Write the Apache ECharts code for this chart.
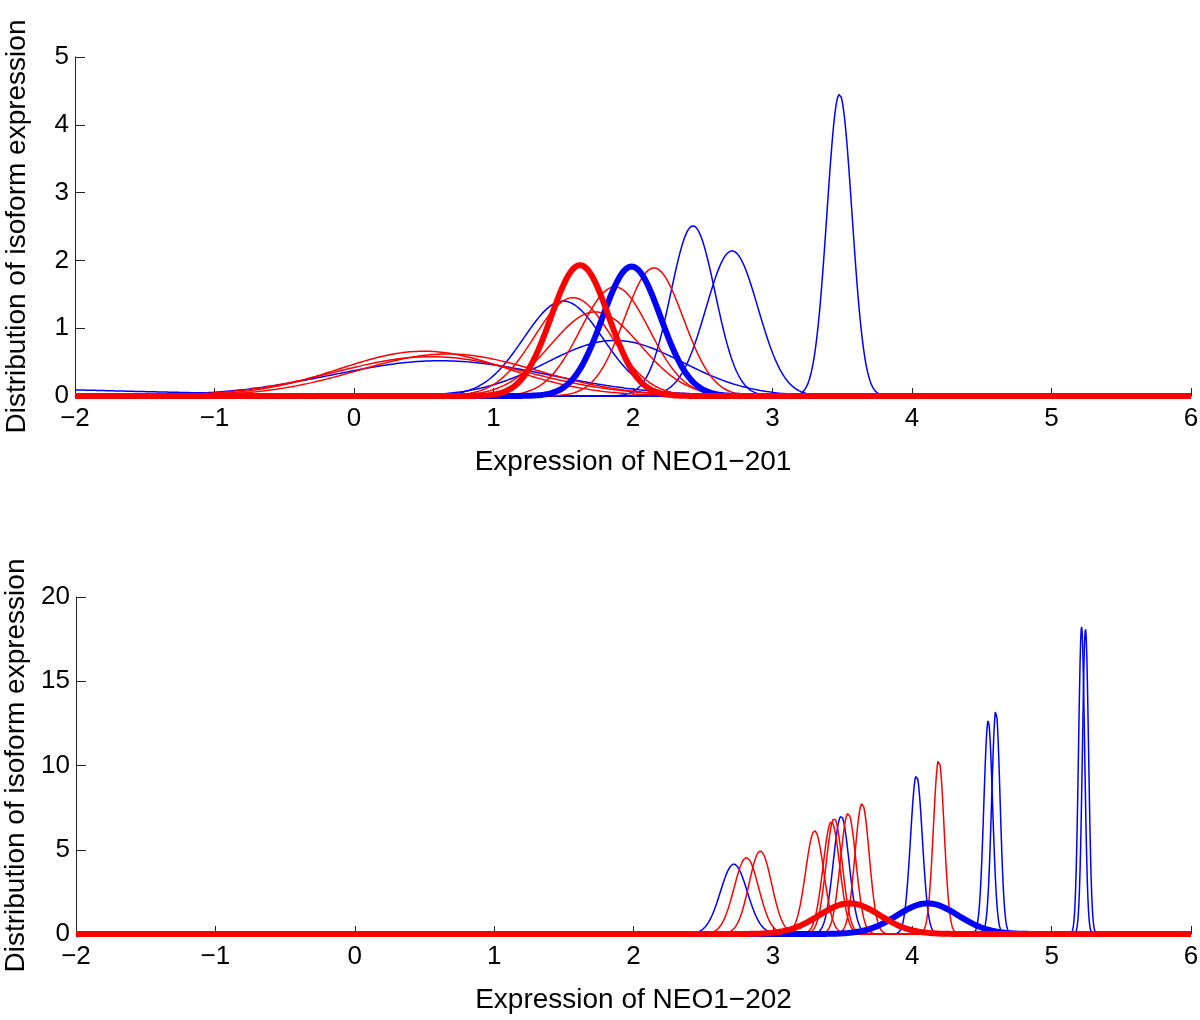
<!DOCTYPE html>
<html>
<head>
<meta charset="utf-8">
<script src="https://cdn.jsdelivr.net/npm/echarts@6/dist/echarts.min.js"></script>
<style>
html,body{margin:0;padding:0;background:#fff;}
#chart{width:1200px;height:1020px;}
</style>
</head>
<body>
<div id="chart"></div>
<script>
// ---- Data: each curve is a density given by its mode (mean) and peak height ----
const xTicks = [-2, -1, 0, 1, 2, 3, 4, 5, 6];
const yTicksTop = [0, 1, 2, 3, 4, 5];
const yTicksBottom = [0, 5, 10, 15, 20];

// Panel 1: NEO1-201
const top201BlueMeans = [-4.5, 0.62, 1.50, 1.87, 2.43, 2.71, 3.48];
const top201BluePeaks = [0.20, 0.52, 1.40, 0.82, 2.51, 2.14, 4.45];
const top201RedMeans  = [0.50, 0.55, 0.67, 1.57, 1.73, 1.87, 2.15];
const top201RedPeaks  = [0.66, 0.58, 0.62, 1.45, 1.24, 1.61, 1.89];
const top201BlueGroupMean = 1.99, top201BlueGroupPeak = 1.91;
const top201RedGroupMean  = 1.62, top201RedGroupPeak  = 1.93;

// Panel 2: NEO1-202
const bot202BlueMeans = [2.72, 3.49, 4.03, 4.545, 4.60, 5.215, 5.243];
const bot202BluePeaks = [4.15, 7.00, 9.44, 12.66, 13.29, 18.24, 18.10];
const bot202RedMeans  = [2.81, 2.91, 3.30, 3.42, 3.44, 3.54, 3.64, 4.19];
const bot202RedPeaks  = [4.53, 4.93, 6.13, 6.67, 6.86, 7.16, 7.75, 10.37];
const bot202BlueGroupMean = 4.11, bot202BlueGroupPeak = 1.82;
const bot202RedGroupMean  = 3.55, bot202RedGroupPeak  = 1.82;

// ---- Build curves ----
const XMIN = -2, XMAX = 6, STEP = 0.004;
const xs = [];
for (let i = 0; i <= Math.round((XMAX - XMIN) / STEP); i++) xs.push(+(XMIN + i * STEP).toFixed(4));

function density(mean, peak) {
  const sd = 1 / (peak * Math.sqrt(2 * Math.PI));
  return xs.map(x => [x, peak * Math.exp(-0.5 * ((x - mean) / sd) ** 2)]);
}

const BLUE = '#0000ff', RED = '#ff0000';
const series = [];
function add(gi, mean, peak, color, width) {
  series.push({
    type: 'line', xAxisIndex: gi, yAxisIndex: gi,
    data: density(mean, peak), showSymbol: false, symbol: 'none',
    smooth: false, clip: false, silent: true,
    lineStyle: { color: color, width: width }
  });
}
top201BlueMeans.forEach((m, i) => add(0, m, top201BluePeaks[i], BLUE, 1.5));
top201RedMeans.forEach((m, i) => add(0, m, top201RedPeaks[i], RED, 1.5));
add(0, top201BlueGroupMean, top201BlueGroupPeak, BLUE, 6);
add(0, top201RedGroupMean, top201RedGroupPeak, RED, 6);

bot202BlueMeans.forEach((m, i) => add(1, m, bot202BluePeaks[i], BLUE, 1.5));
bot202RedMeans.forEach((m, i) => add(1, m, bot202RedPeaks[i], RED, 1.5));
add(1, bot202BlueGroupMean, bot202BlueGroupPeak, BLUE, 6);
add(1, bot202RedGroupMean, bot202RedGroupPeak, RED, 6);

const FONT = "'Liberation Sans', Arial, Helvetica, sans-serif";
const AXC = '#222';
const fmt = v => String(v).replace('-', '\u2212');

function xAxis(gi, name) {
  return {
    type: 'value', gridIndex: gi, min: xTicks[0], max: xTicks[xTicks.length - 1], interval: 1,
    name: name, nameLocation: 'middle', nameGap: 52,
    nameTextStyle: { fontFamily: FONT, fontSize: 28, color: '#000' },
    axisLine: { show: true, onZero: false, lineStyle: { color: AXC, width: 1 } },
    axisTick: { show: true, inside: true, length: 8, lineStyle: { color: AXC } },
    axisLabel: { fontFamily: FONT, fontSize: 26, color: '#000', margin: 10, formatter: fmt },
    splitLine: { show: false }
  };
}
function yAxis(gi, ticks) {
  return {
    type: 'value', gridIndex: gi, min: ticks[0], max: ticks[ticks.length - 1], interval: ticks[1] - ticks[0],
    name: 'Distribution of isoform expression', nameLocation: 'middle', nameGap: 44,
    nameTextStyle: { fontFamily: FONT, fontSize: 28, color: '#000' },
    axisLine: { show: true, onZero: false, lineStyle: { color: AXC, width: 1 } },
    axisTick: { show: true, inside: true, length: 10, lineStyle: { color: AXC } },
    axisLabel: { fontFamily: FONT, fontSize: 26, color: '#000', margin: 6, formatter: fmt },
    splitLine: { show: false }
  };
}

const chart = echarts.init(document.getElementById('chart'), null, { renderer: 'canvas' });
chart.setOption({
  animation: false,
  backgroundColor: '#fff',
  grid: [
    { left: 75, top: 57, width: 1116, height: 339, containLabel: false, outerBoundsMode: 'none' },
    { left: 76, top: 597, width: 1115, height: 337, containLabel: false, outerBoundsMode: 'none' }
  ],
  xAxis: [xAxis(0, 'Expression of NEO1\u2212201'), xAxis(1, 'Expression of NEO1\u2212202')],
  yAxis: [yAxis(0, yTicksTop), yAxis(1, yTicksBottom)],
  series: series
});
</script>
</body>
</html>
